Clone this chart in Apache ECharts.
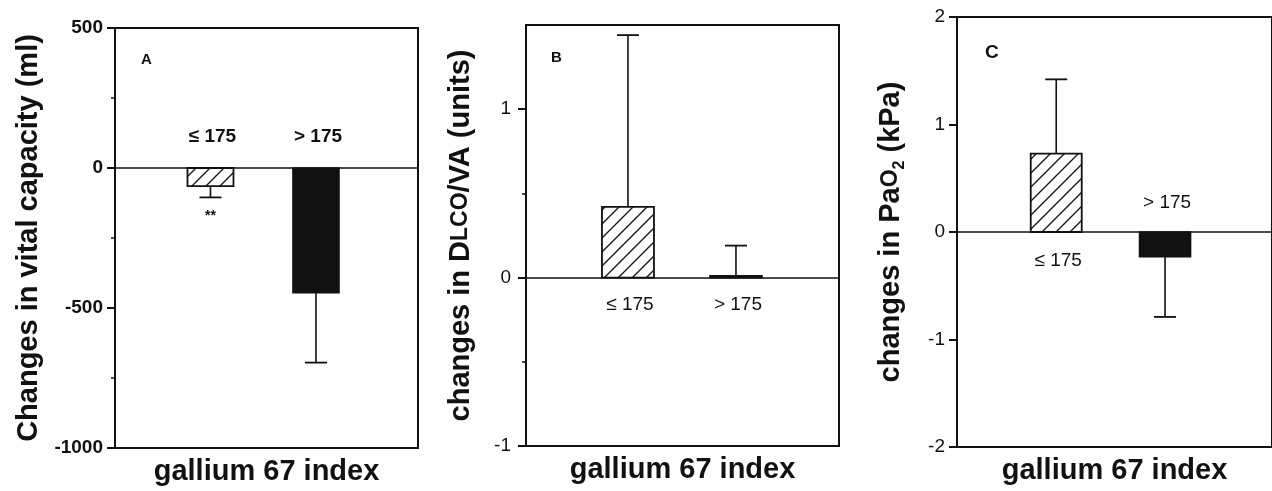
<!DOCTYPE html>
<html>
<head>
<meta charset="utf-8">
<script src="https://cdn.jsdelivr.net/npm/echarts@6/dist/echarts.min.js"></script>
<style>
html,body{margin:0;padding:0;background:#fefefe;}
#chart{width:1272px;height:491px;}
</style>
</head>
<body>
<div id="chart"></div>
<script>
// ---- data ----
const categories = ['≤ 175', '> 175'];
const panelLetters = ['A', 'B', 'C'];
const xTitle = 'gallium 67 index';
// Panel A: changes in vital capacity (ml)
const meansA = [-65, -445];
const errA = [40, 250];
const marksA = ['**', ''];
const yTicksA = [-1000, -500, 0, 500];
// Panel B: changes in DLCO/VA (units)
const meansB = [0.42, 0.01];
const errB = [1.02, 0.18];
const yTicksB = [-1, 0, 1];
const yMinorB = [-0.5, 0.5];
// Panel C: changes in PaO2 (kPa)
const meansC = [0.73, -0.23];
const errC = [0.69, 0.56];
const yTicksC = [-2, -1, 0, 1, 2];

// ---- hatch pattern ----
function hatch() {
  const s = 14;
  const c = document.createElement('canvas');
  c.width = s; c.height = s;
  const g = c.getContext('2d');
  g.strokeStyle = '#1a1a1a';
  g.lineWidth = 1.4;
  g.beginPath();
  g.moveTo(-1, s + 1); g.lineTo(s + 1, -1);
  g.moveTo(-2, 2); g.lineTo(2, -2);
  g.moveTo(s - 2, s + 2); g.lineTo(s + 2, s - 2);
  g.stroke();
  return c;
}
const hatchImg = hatch();

const chart = echarts.init(document.getElementById('chart'));

function makeRender(means, errs, marks, barW, labelOff, labelFont) {
  return function (params, api) {
    const i = params.dataIndex;
    const v = means[i], e = errs[i];
    const sign = v >= 0 ? 1 : -1;
    const p0 = api.coord([i, 0]);
    const p1 = api.coord([i, v]);
    const pe = api.coord([i, v + sign * e]);
    const cx = p0[0];
    const children = [];
    children.push({
      type: 'rect',
      shape: { x: cx - barW / 2, y: Math.min(p0[1], p1[1]), width: barW, height: Math.max(1.5, Math.abs(p1[1] - p0[1])) },
      style: i === 0 ? { fill: { image: hatchImg, repeat: 'repeat' }, stroke: '#111', lineWidth: 1.8 }
                     : { fill: '#111', stroke: '#111', lineWidth: 1.6 }
    });
    children.push({ type: 'line', shape: { x1: cx, y1: p1[1], x2: cx, y2: pe[1] }, style: { stroke: '#111', lineWidth: 1.6 } });
    children.push({ type: 'line', shape: { x1: cx - 11, y1: pe[1], x2: cx + 11, y2: pe[1] }, style: { stroke: '#111', lineWidth: 1.8 } });
    children.push({
      type: 'text',
      style: { text: categories[i], x: cx + 2, y: p0[1] + sign * labelOff, align: 'center', verticalAlign: 'middle',
               font: labelFont, fill: '#111' }
    });
    if (marks && marks[i]) {
      children.push({
        type: 'text',
        style: { text: marks[i], x: cx, y: pe[1] + 19, align: 'center', verticalAlign: 'middle',
                 font: 'bold 14px "Liberation Sans", Arial, sans-serif', fill: '#111' }
      });
    }
    return { type: 'group', children: children };
  };
}

const FONT = '"Liberation Sans", Arial, Helvetica, sans-serif';
const zeroLine = {
  silent: true, symbol: 'none', label: { show: false },
  lineStyle: { color: '#111', type: 'solid', width: 1.6 },
  data: [{ yAxis: 0 }]
};
const gridStyle = { show: true, borderColor: '#111', borderWidth: 2, backgroundColor: 'transparent', containLabel: false };

function xAxisFor(idx, min, max) {
  return {
    gridIndex: idx, type: 'value', min: min, max: max, position: 'bottom',
    axisLine: { show: true, onZero: false, lineStyle: { color: '#111', width: 2 } },
    axisTick: { show: false }, axisLabel: { show: false }, splitLine: { show: false },
    name: xTitle, nameLocation: 'middle', nameGap: 9,
    nameTextStyle: { fontFamily: FONT, fontSize: 29, fontWeight: 'bold', color: '#111', verticalAlign: 'top' }
  };
}
const tickLabelStyle = { fontFamily: FONT, fontSize: 19, color: '#111', margin: 12 };
const yLine = { show: true, onZero: false, lineStyle: { color: '#111', width: 2 } };

const option = {
  backgroundColor: '#fefefe',
  animation: false,
  title: [
    { text: panelLetters[0], left: 136, top: 47, textStyle: { fontFamily: FONT, fontSize: 15, fontWeight: 900, color: '#111' } },
    { text: panelLetters[1], left: 546, top: 45, textStyle: { fontFamily: FONT, fontSize: 15, fontWeight: 900, color: '#111' } },
    { text: panelLetters[2], left: 980, top: 38, textStyle: { fontFamily: FONT, fontSize: 19, fontWeight: 'bold', color: '#111' } }
  ],
  grid: [
    Object.assign({ left: 115, top: 28, width: 303, height: 421 }, gridStyle),
    Object.assign({ left: 526, top: 25, width: 313, height: 421 }, gridStyle),
    Object.assign({ left: 957, top: 17, width: 330, height: 430 }, gridStyle)
  ],
  xAxis: [
    xAxisFor(0, -0.905, 1.967),
    xAxisFor(1, -0.944, 1.954),
    xAxisFor(2, -0.912, 1.983)
  ],
  yAxis: [
    {
      gridIndex: 0, type: 'value', position: 'left', min: -1000, max: 500, interval: 500,
      axisLine: yLine,
      axisTick: { show: true, length: 8, lineStyle: { color: '#111', width: 2 } },
      minorTick: { show: true, splitNumber: 2, length: 4, lineStyle: { color: '#111', width: 1.5 } },
      axisLabel: Object.assign({ fontWeight: 'bold', formatter: v => yTicksA.includes(v) ? String(v) : '' }, tickLabelStyle),
      splitLine: { show: false }, minorSplitLine: { show: false },
      name: 'Changes in vital capacity (ml)', nameLocation: 'middle', nameGap: 72,
      nameTextStyle: { fontFamily: FONT, fontSize: 29, fontWeight: 'bold', color: '#111' }
    },
    {
      gridIndex: 1, type: 'value', position: 'left', min: -1, max: 1.5, interval: 1,
      axisLine: yLine,
      axisTick: { show: true, length: 8, customValues: yTicksB, lineStyle: { color: '#111', width: 2 } },
      axisLabel: Object.assign({ customValues: yTicksB, formatter: v => String(v) }, tickLabelStyle, { margin: 15 }),
      splitLine: { show: false },
      name: '{a|changes in D}{b|LCO}{a|/VA (units)}', nameLocation: 'middle', nameGap: 51,
      nameTextStyle: {
        fontFamily: FONT, fontSize: 29, fontWeight: 'bold', color: '#111',
        rich: {
          a: { fontFamily: FONT, fontSize: 29, fontWeight: 'bold', color: '#111' },
          b: { fontFamily: FONT, fontSize: 23, fontWeight: 'bold', color: '#111' }
        }
      }
    },
    {
      gridIndex: 1, type: 'value', position: 'left', min: -1, max: 1.5,
      axisLine: { show: false, onZero: false },
      axisTick: { show: true, length: 4, customValues: yMinorB, lineStyle: { color: '#111', width: 1.5 } },
      axisLabel: { show: false }, splitLine: { show: false }
    },
    {
      gridIndex: 2, type: 'value', position: 'left', min: -2, max: 2, interval: 1,
      axisLine: yLine,
      axisTick: { show: true, length: 8, lineStyle: { color: '#111', width: 2 } },
      axisLabel: Object.assign({ formatter: v => yTicksC.includes(v) ? String(v) : '' }, tickLabelStyle),
      splitLine: { show: false },
      name: '{a|changes in Pa}{b|O}{s|2}{a| (kPa)}', nameLocation: 'middle', nameGap: 49,
      nameTextStyle: {
        fontFamily: FONT, fontSize: 29, fontWeight: 'bold', color: '#111',
        rich: {
          a: { fontFamily: FONT, fontSize: 29, fontWeight: 'bold', color: '#111', lineHeight: 34 },
          b: { fontFamily: FONT, fontSize: 23, fontWeight: 'bold', color: '#111', lineHeight: 34 },
          s: { fontFamily: FONT, fontSize: 16, fontWeight: 'bold', color: '#111', verticalAlign: 'bottom', lineHeight: 14 }
        }
      }
    }
  ],
  series: [
    {
      type: 'custom', xAxisIndex: 0, yAxisIndex: 0, clip: false,
      data: categories.map((c, i) => [i, meansA[i]]),
      renderItem: makeRender(meansA, errA, marksA, 46, 31, '600 19px ' + FONT),
      markLine: zeroLine
    },
    {
      type: 'custom', xAxisIndex: 1, yAxisIndex: 1, clip: false,
      data: categories.map((c, i) => [i, meansB[i]]),
      renderItem: makeRender(meansB, errB, null, 52, 27, '19px ' + FONT),
      markLine: zeroLine
    },
    {
      type: 'custom', xAxisIndex: 2, yAxisIndex: 3, clip: false,
      data: categories.map((c, i) => [i, meansC[i]]),
      renderItem: makeRender(meansC, errC, null, 51, 29, '19px ' + FONT),
      markLine: zeroLine
    }
  ]
};
chart.setOption(option);
</script>
</body>
</html>
